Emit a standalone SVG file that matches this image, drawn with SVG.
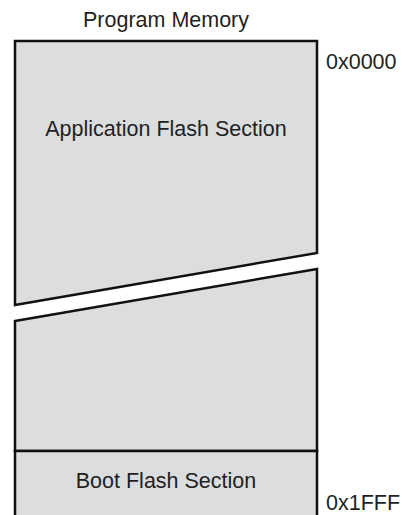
<svg xmlns="http://www.w3.org/2000/svg" width="402" height="515" viewBox="0 0 402 515">
  <style>
    .sec { fill: #dcdddf; stroke: #111; stroke-width: 2.5; stroke-linejoin: miter; }
    .lbl { font-family: "Liberation Sans", Arial, sans-serif; font-size: 21.5px; fill: #231f20; }
    .mid { text-anchor: middle; }
  </style>
  <rect width="402" height="515" fill="#ffffff"/>
  <text class="lbl mid" x="166" y="27">Program Memory</text>
  <g id="app-flash-top">
    <polygon class="sec" points="15,41 317,41 317,253 15,305"/>
    <text class="lbl mid" x="166" y="136">Application Flash Section</text>
  </g>
  <g id="app-flash-bottom">
    <polygon class="sec" points="15,321 317,269 317,451 15,451"/>
  </g>
  <g id="boot-flash">
    <polygon class="sec" points="15,451 317,451 317,525 15,525"/>
    <text class="lbl mid" x="166" y="488">Boot Flash Section</text>
  </g>
  <g id="addresses">
    <text class="lbl" x="326" y="69">0x0000</text>
    <text class="lbl" x="326" y="510">0x1FFF</text>
  </g>
</svg>
